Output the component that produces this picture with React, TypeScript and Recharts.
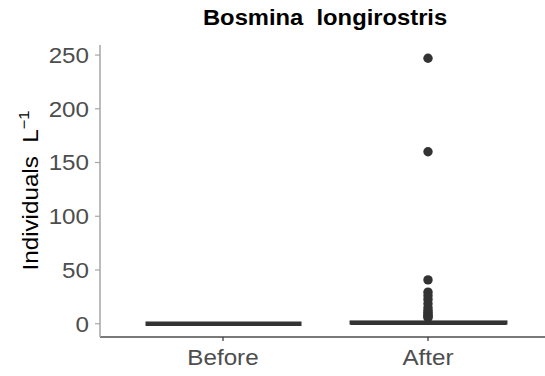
import { Bar, ComposedChart, Scatter, XAxis, YAxis } from "recharts";

const groups = ["Before", "After"];
const whiskerLow = [0, 0];
const quartileLow = [0, 0.1];
const medians = [0, 0.6];
const quartileHigh = [0, 2.2];
const whiskerHigh = [0, 5];

// points beyond the upper fence, After only
const afterOutliers = [247, 160, 40.8, 29.4, 26, 22.6, 18.6, 14.8, 12.4, 10.5, 9, 7.6, 6.5, 5.6];

const yTicks = [0, 50, 100, 150, 200, 250];

const INK = "#333333";
const TEXT = "#4d4d4d";
const FONT = "'Liberation Sans', Arial, sans-serif";
const PAD = { left: 20.5, right: 14.5 };
const STRETCH = 1.1;

const boxes = groups.map((group, i) => ({
  group,
  base: whiskerLow[i],
  lowerWhisker: quartileLow[i] - whiskerLow[i],
  box: quartileHigh[i] - quartileLow[i],
  upperWhisker: whiskerHigh[i] - quartileHigh[i],
  q1: quartileLow[i],
  median: medians[i],
  q3: quartileHigh[i],
}));

const outlierPoints = afterOutliers.map((value) => ({ pos: 2, value }));

function Whisker(props: any) {
  const { x, y, width, height } = props;
  if (!height) return null;
  const cx = x + width / 2;
  return <line x1={cx} x2={cx} y1={y} y2={y + height} stroke={INK} strokeWidth={1.9} />;
}

function Box(props: any) {
  const { x, y, width, height, payload } = props;
  const span = payload.q3 - payload.q1;
  const my = span > 0 ? y + (height * (payload.q3 - payload.median)) / span : y + height;
  if (Math.abs(height) < 0.5) {
    return <line x1={x} x2={x + width} y1={my} y2={my} stroke={INK} strokeWidth={4.6} />;
  }
  return (
    <g>
      <rect x={x} y={y} width={width} height={height} fill="#ffffff" stroke={INK} strokeWidth={1.9} />
      <line x1={x} x2={x + width} y1={my} y2={my} stroke={INK} strokeWidth={3.8} />
    </g>
  );
}

function XTick({ x, payload }: any) {
  return (
    <text
      transform={`translate(${x},365) scale(${STRETCH},1)`}
      textAnchor="middle"
      fontFamily={FONT}
      fontSize={22}
      fill={TEXT}
    >
      {payload.value}
    </text>
  );
}

function YTick({ y, payload }: any) {
  return (
    <text
      transform={`translate(89,${y + 7.8}) scale(${STRETCH},1)`}
      textAnchor="end"
      fontFamily={FONT}
      fontSize={22}
      fill={TEXT}
    >
      {payload.value}
    </text>
  );
}

function YTitle() {
  return (
    <text
      transform={`translate(38,190.5) rotate(-90) scale(${STRETCH},1)`}
      textAnchor="middle"
      fontFamily={FONT}
      fontSize={22}
      fill="#000000"
    >
      {"Individuals\u00a0\u00a0L"}
      <tspan fontSize={15} dy={-9}>−1</tspan>
    </text>
  );
}

export default function App() {
  return (
    <div style={{ position: "relative", width: 545, height: 376, overflow: "hidden", background: "#ffffff" }}>
      <style>{"body{margin:0}"}</style>
      <div
        style={{
          position: "absolute",
          left: 105,
          top: 7,
          width: 440,
          textAlign: "center",
          fontFamily: FONT,
          fontWeight: "bold",
          fontSize: 22,
          lineHeight: "22px",
          color: "#000000",
          whiteSpace: "pre",
        }}
      >
        <span style={{ display: "inline-block", transform: "scaleX(1.08)" }}>Bosmina  longirostris</span>
      </div>
      <ComposedChart
        width={545}
        height={376}
        data={boxes}
        margin={{ top: 45, right: 0, bottom: 0, left: 0 }}
        barSize={156}
      >
        <XAxis
          dataKey="group"
          height={39}
          padding={PAD}
          axisLine={{ stroke: TEXT, strokeWidth: 1.5 }}
          tickLine={{ stroke: INK, strokeWidth: 1.2 }}
          tickSize={4}
          tick={<XTick />}
        />
        <XAxis
          xAxisId="top"
          orientation="top"
          dataKey="group"
          height={0}
          padding={PAD}
          tick={false}
          tickLine={false}
          axisLine={{ stroke: "#b3b3b3", strokeWidth: 1.5 }}
        />
        <XAxis xAxisId="pos" dataKey="pos" type="number" domain={[0.5, 2.5]} padding={PAD} hide allowDataOverflow />
        <YAxis
          width={100}
          domain={[-12.35, 259.35]}
          ticks={yTicks}
          allowDataOverflow
          axisLine={{ stroke: "#a6a6a6", strokeWidth: 1.5 }}
          tickLine={{ stroke: "#a6a6a6", strokeWidth: 1.2 }}
          tickSize={5}
          tick={<YTick />}
          label={{ content: () => <YTitle /> }}
        />
        <Bar dataKey="base" stackId="b" fill="none" isAnimationActive={false} />
        <Bar dataKey="lowerWhisker" stackId="b" shape={<Whisker />} isAnimationActive={false} />
        <Bar dataKey="box" stackId="b" shape={<Box />} isAnimationActive={false} />
        <Bar dataKey="upperWhisker" stackId="b" shape={<Whisker />} isAnimationActive={false} />
        <Scatter
          data={outlierPoints}
          xAxisId="pos"
          dataKey="value"
          fill={INK}
          shape={(p: any) => <circle cx={p.cx} cy={p.cy} r={4.7} fill={INK} />}
          isAnimationActive={false}
        />
      </ComposedChart>
    </div>
  );
}
